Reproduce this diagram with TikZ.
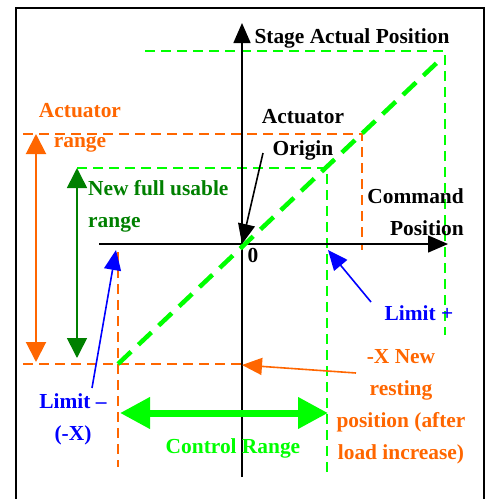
\documentclass[tikz,border=0pt]{standalone}
\usepackage{fontspec}
\setmainfont{Liberation Serif}
\usetikzlibrary{positioning,arrows.meta}
\definecolor{Orange}{HTML}{FF6600}
\definecolor{Lime}{HTML}{00FF00}
\definecolor{DGreen}{HTML}{008000}
\definecolor{Blue}{HTML}{0000FF}
\begin{document}
\begin{tikzpicture}[x=1pt,y=-1pt,
    lbl/.style={font=\bfseries\fontsize{21.4}{32}\selectfont,inner sep=0pt,align=center,anchor=base},
    axis/.style={-{Triangle[length=20pt,width=17pt]},line width=1.5pt},
    guide/.style={dashed,dash pattern=on 10pt off 6pt,line width=1.6pt},
    diag/.style={Lime,dash pattern=on 18pt off 10pt,line width=4.5pt},
    rng/.style={{Triangle[length=20pt,width=20pt]}-{Triangle[length=20pt,width=20pt]},line width=2pt},
    ptr/.style={-{Triangle[length=20pt,width=17pt]},line width=1.6pt},
    ctl/.style={{Triangle[length=30pt,width=30pt]}-{Triangle[length=30pt,width=30pt]},line width=7pt,color=Lime}
  ]
    \useasboundingbox (0,0) rectangle (488,499);
    \draw[line width=1.5pt] (16,505) -- (16,8) -- (484,8) -- (484,505);

    % guide lines
    \coordinate (gt1) at (145,51);  \coordinate (gt2) at (445,51);  \coordinate (gt3) at (445,335);
    \coordinate (ot1) at (23,134);  \coordinate (ot2) at (362,134); \coordinate (ot3) at (362,250);
    \coordinate (gm1) at (77,168);  \coordinate (gm2) at (327,168); \coordinate (gm3) at (327,477);
    \coordinate (ob1) at (23,364);  \coordinate (ob2) at (242,364);
    \coordinate (ov1) at (118,252); \coordinate (ov2) at (118,467);
    \draw[guide,Lime]   (gt1) -- (gt2) -- (gt3);
    \draw[guide,Orange] (ot1) -- (ot2) -- (ot3);
    \draw[guide,Lime]   (gm1) -- (gm2) -- (gm3);
    \draw[guide,Orange] (ob1) -- (ob2);
    \draw[guide,Orange] (ov1) -- (ov2);

    % axes
    \coordinate (O) at (242,244);
    \coordinate (ytop) at (242,23);  \coordinate (ybot) at (242,477);
    \coordinate (xl) at (99,244);    \coordinate (xr) at (448,244);
    \draw[axis] (ybot) -- (ytop);
    \draw[axis] (xl) -- (xr);

    % stage response
    \coordinate (d1) at (118,364); \coordinate (d2) at (443,57);
    \draw[diag] (d1) -- (d2);

    % ranges
    \coordinate (ar1) at (36,134); \coordinate (ar2) at (36,362);
    \coordinate (nr1) at (77,168); \coordinate (nr2) at (77,358);
    \draw[rng,Orange] (ar2) -- (ar1);
    \draw[rng,DGreen,line width=1.6pt] (nr2) -- (nr1);
    \coordinate (cr1) at (120,413); \coordinate (cr2) at (328,413);
    \draw[ctl] (cr1) -- (cr2);

    % labels (base = last line)
    \node[lbl] (stage) at (352,43) {Stage Actual Position};
    \node[lbl,Orange,font=\bfseries\fontsize{21.4}{30}\selectfont] (actr) at (80,147) {Actuator\\range};
    \node[lbl,DGreen,align=left,anchor=base west] (newr) at (88,227) {New full usable\\range};
    \node[lbl] (orig) at (303,155) {Actuator\\Origin};
    \node[lbl,align=right,anchor=base east] (cmd) at (464,235) {Command\\Position};
    \node[lbl] (zero) at (253,262) {0};
    \node[lbl,Blue] (limp) at (419,320) {Limit +};
    \node[lbl,Orange] (rest) at (401,459) {-X New\\resting\\position (after\\load increase)};
    \node[lbl,Blue] (limm) at (73,440) {Limit –\\(-X)};
    \node[lbl,Lime] (ctrl) at (233,453) {Control Range};

    % pointers
    \coordinate (p1) at (263,153);
    \draw[ptr] (p1) -- (O);
    \coordinate (p2) at (92,388);  \coordinate (q2) at (116,250);
    \draw[ptr,Blue] (p2) -- (q2);
    \coordinate (p3) at (371,302); \coordinate (q3) at (328,250);
    \draw[ptr,Blue] (p3) -- (q3);
    \coordinate (p4) at (356,373); \coordinate (q4) at (242,365);
    \draw[ptr,Orange] (p4) -- (q4);
\end{tikzpicture}
\end{document}
